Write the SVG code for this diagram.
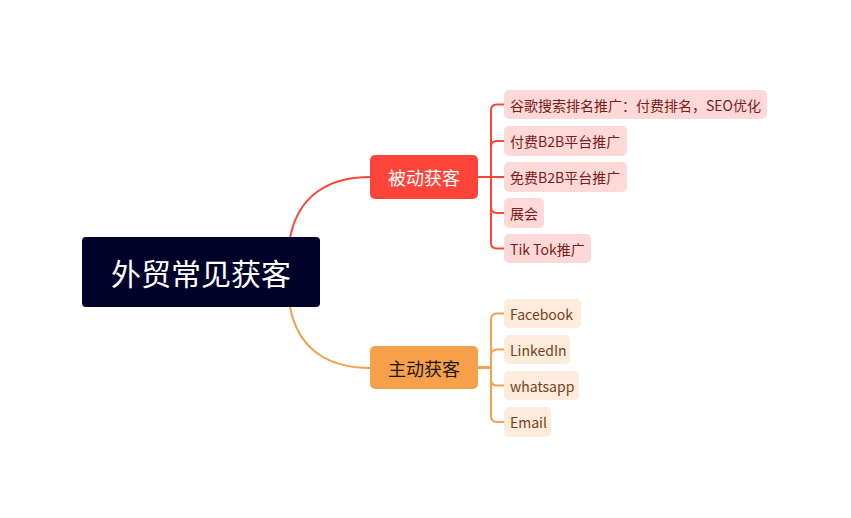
<svg xmlns="http://www.w3.org/2000/svg" width="851" height="518" viewBox="0 0 851 518">
<style>
text{font-family:"Noto Sans CJK SC","Noto Sans",sans-serif;dominant-baseline:central}
.root{fill:#000229}
.rt{fill:#fff;font-size:30px;text-anchor:middle}
.p1{fill:#FF443A}
.p2{fill:#F7A04B}
.pt1{fill:#fff;font-size:18px;text-anchor:middle}
.pt2{fill:#1a1a1a;font-size:18px;text-anchor:middle}
.c1{fill:#FFD9D7}
.c2{fill:#FDEBDB}
.ct1{fill:#7A1C1C;font-size:14px}
.ct2{fill:#74421A;font-size:14px}
.l1{fill:none;stroke:#FF443A;stroke-width:2}
.l2{fill:none;stroke:#F7A04B;stroke-width:2}
</style>
<rect width="851" height="518" fill="#fff"/>
<g id="connectors">
<path class="l1" d="M290,238 C298,196 328,177 370,177"/>
<path class="l2" d="M290,307 C298,349 328,368 370,368"/>
<path class="l1" d="M478,177 H491 V110 Q491,104.5 497,104.5 H504"/>
<path class="l1" d="M478,177 H491 V147 Q491,141 497,141 H504"/>
<path class="l1" d="M478,177 H504"/>
<path class="l1" d="M478,177 H491 V207 Q491,213 497,213 H504"/>
<path class="l1" d="M478,177 H491 V242.5 Q491,248.5 497,248.5 H504"/>
<path class="l2" d="M478,367.5 H491 V319.5 Q491,313.5 497,313.5 H504"/>
<path class="l2" d="M478,367.5 H491 V355.5 Q491,349.5 497,349.5 H504"/>
<path class="l2" d="M478,367.5 H491 V379.5 Q491,385.5 497,385.5 H504"/>
<path class="l2" d="M478,367.5 H491 V416 Q491,422 497,422 H504"/>
</g>
<g id="root"><rect class="root" x="82" y="237" width="238" height="70" rx="4"/><text class="rt" x="201" y="272">外贸常见获客</text></g>
<g id="passive"><rect class="p1" x="370" y="155" width="108" height="44" rx="5"/><text class="pt1" x="424" y="177">被动获客</text></g>
<g id="active"><rect class="p2" x="370" y="346" width="108" height="43" rx="5"/><text class="pt2" x="424" y="367.5">主动获客</text></g>
<g id="p-google"><rect class="c1" x="504" y="90" width="263" height="29" rx="5"/><text class="ct1" x="510" y="104.5">谷歌搜索排名推广：付费排名，SEO优化</text></g>
<g id="p-paidb2b"><rect class="c1" x="504" y="126" width="123" height="30" rx="5"/><text class="ct1" x="510" y="141">付费B2B平台推广</text></g>
<g id="p-freeb2b"><rect class="c1" x="504" y="162" width="123" height="30" rx="5"/><text class="ct1" x="510" y="177">免费B2B平台推广</text></g>
<g id="p-expo"><rect class="c1" x="504" y="198" width="40" height="30" rx="5"/><text class="ct1" x="510" y="213">展会</text></g>
<g id="p-tiktok"><rect class="c1" x="504" y="234" width="87" height="29" rx="5"/><text class="ct1" x="510" y="248.5">Tik Tok推广</text></g>
<g id="a-facebook"><rect class="c2" x="504" y="299" width="77" height="29" rx="5"/><text class="ct2" x="510" y="313.5">Facebook</text></g>
<g id="a-linkedin"><rect class="c2" x="504" y="335" width="66" height="29" rx="5"/><text class="ct2" x="510" y="349.5">LinkedIn</text></g>
<g id="a-whatsapp"><rect class="c2" x="504" y="371" width="75" height="29" rx="5"/><text class="ct2" x="510" y="385.5">whatsapp</text></g>
<g id="a-email"><rect class="c2" x="504" y="407" width="47" height="30" rx="5"/><text class="ct2" x="510" y="422">Email</text></g>
</svg>
